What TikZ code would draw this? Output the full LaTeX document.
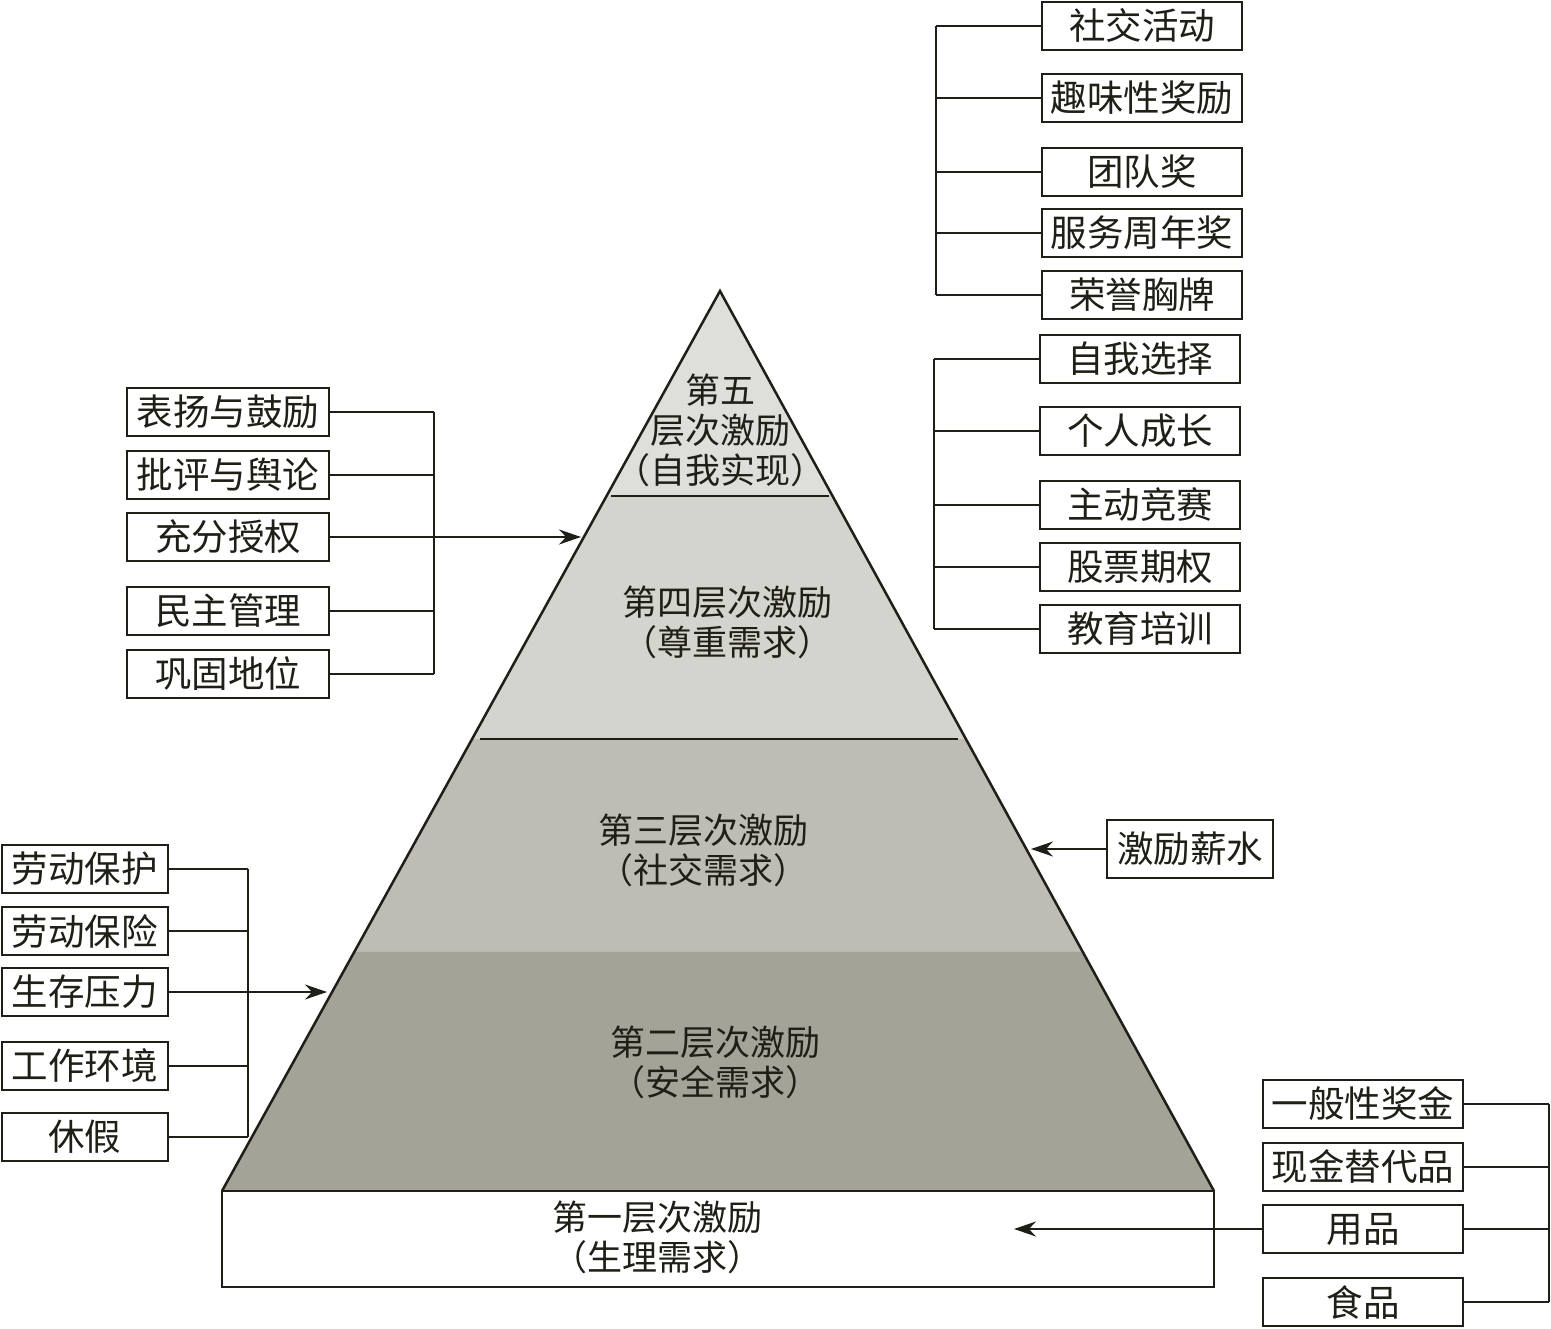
\documentclass[tikz,border=0pt]{standalone}
\usepackage{fontspec}
\newfontfamily\cjk{Noto Sans CJK SC}
\usetikzlibrary{calc,arrows.meta}
\definecolor{ink}{HTML}{1F1F17}
\definecolor{lvA}{HTML}{DEDEDA}
\definecolor{lvB}{HTML}{D4D4CE}
\definecolor{lvC}{HTML}{BDBDB5}
\definecolor{lvD}{HTML}{A3A398}
\tikzset{
  box/.style={draw=ink, line width=2.4pt, fill=white, minimum height=48pt, inner sep=0pt,
    font=\cjk\fontsize{36.5}{40}\selectfont, text=ink},
  wbox/.style={box, minimum width=#1},
  conn/.style={draw=ink, line width=2.2pt},
  arr/.style={conn, -{Stealth[length=22pt,width=15pt]}},
  lvtext/.style={font=\cjk\fontsize{35}{40}\selectfont, text=ink, align=center, inner sep=0pt}
}
\begin{document}
\begin{tikzpicture}[x=1pt,y=-1pt]
\useasboundingbox (0,0) rectangle (1551,1329);
% pyramid
\coordinate (A) at (720,291);
\coordinate (BL) at (222,1191);
\coordinate (BR) at (1214,1191);
\coordinate (L1) at ($(A)!0.2278!(BL)$);
\coordinate (R1) at ($(A)!0.2278!(BR)$);
\coordinate (L2) at ($(A)!0.4978!(BL)$);
\coordinate (R2) at ($(A)!0.4978!(BR)$);
\coordinate (L3) at ($(A)!0.7344!(BL)$);
\coordinate (R3) at ($(A)!0.7344!(BR)$);
\fill[lvA] (A) -- (L1) -- (R1) -- cycle;
\fill[lvB] (L1) -- (L2) -- (R2) -- (R1) -- cycle;
\fill[lvC] (L2) -- (L3) -- (R3) -- (R2) -- cycle;
\fill[lvD] (L3) -- (BL) -- (BR) -- (R3) -- cycle;
\draw[ink, line width=2.5pt] (BL) -- (A) -- (BR);
\draw[ink, line width=2.4pt] ($(L1)+(4,0)$) -- ($(R1)+(-4,0)$);
\draw[ink, line width=2.4pt] ($(L2)+(8,0)$) -- ($(R2)+(-8,0)$);
\draw[ink, line width=2.5pt, fill=white] (BL) rectangle (1214,1287);
% level texts
\node[lvtext] (lv5) at (720,430) {第五\\层次激励\\（自我实现）};
\node[lvtext] (lv4) at (727,622) {第四层次激励\\（尊重需求）};
\node[lvtext] (lv3) at (703,850) {第三层次激励\\（社交需求）};
\node[lvtext] (lv2) at (715,1062) {第二层次激励\\（安全需求）};
\node[lvtext] (lv1) at (657,1237) {第一层次激励\\（生理需求）};
% right top group
\node[wbox=200pt] (a1) at (1142,26) {社交活动};
\node[wbox=200pt] (a2) at (1142,98) {趣味性奖励};
\node[wbox=200pt] (a3) at (1142,172) {团队奖};
\node[wbox=200pt] (a4) at (1142,233) {服务周年奖};
\node[wbox=200pt] (a5) at (1142,295) {荣誉胸牌};
\coordinate (ax) at (936,0);
\foreach \n in {a1,a2,a3,a4,a5}{\draw[conn] (\n.west) -- (\n.west -| ax);}
\draw[conn] (a1.west -| ax) -- (a5.west -| ax);
% right second group
\node[wbox=200pt] (b1) at (1140,359) {自我选择};
\node[wbox=200pt] (b2) at (1140,431) {个人成长};
\node[wbox=200pt] (b3) at (1140,505) {主动竞赛};
\node[wbox=200pt] (b4) at (1140,567) {股票期权};
\node[wbox=200pt] (b5) at (1140,629) {教育培训};
\coordinate (bx) at (934,0);
\foreach \n in {b1,b2,b3,b4,b5}{\draw[conn] (\n.west) -- (\n.west -| bx);}
\draw[conn] (b1.west -| bx) -- (b5.west -| bx);
% left upper group
\node[wbox=202pt] (c1) at (228,412) {表扬与鼓励};
\node[wbox=202pt] (c2) at (228,475) {批评与舆论};
\node[wbox=202pt] (c3) at (228,537) {充分授权};
\node[wbox=202pt] (c4) at (228,611) {民主管理};
\node[wbox=202pt] (c5) at (228,674) {巩固地位};
\coordinate (cx) at (434,0);
\foreach \n in {c1,c2,c4,c5}{\draw[conn] (\n.east) -- (\n.east -| cx);}
\draw[conn] (c1.east -| cx) -- (c5.east -| cx);
\coordinate (ct) at (581,537);
\draw[arr] (c3.east) -- (ct);
% left lower group
\node[wbox=166pt] (d1) at (85,869) {劳动保护};
\node[wbox=166pt] (d2) at (85,931) {劳动保险};
\node[wbox=166pt] (d3) at (85,992) {生存压力};
\node[wbox=166pt] (d4) at (85,1066) {工作环境};
\node[wbox=166pt] (d5) at (85,1137) {休假};
\coordinate (dx) at (248,0);
\foreach \n in {d1,d2,d4,d5}{\draw[conn] (\n.east) -- (\n.east -| dx);}
\draw[conn] (d1.east -| dx) -- (d5.east -| dx);
\coordinate (dt) at (327,992);
\draw[arr] (d3.east) -- (dt);
% salary
\node[wbox=166pt, minimum height=58pt] (s) at (1190,849) {激励薪水};
\coordinate (st) at (1031,849);
\draw[arr] (s.west) -- (st);
% right lower group
\node[wbox=200pt] (e1) at (1363,1104) {一般性奖金};
\node[wbox=200pt] (e2) at (1363,1167) {现金替代品};
\node[wbox=200pt] (e3) at (1363,1229) {用品};
\node[wbox=200pt] (e4) at (1363,1302) {食品};
\coordinate (ex) at (1549,0);
\foreach \n in {e1,e2,e3,e4}{\draw[conn] (\n.east) -- (\n.east -| ex);}
\draw[conn] (e1.east -| ex) -- (e4.east -| ex);
\coordinate (et) at (1014,1229);
\draw[arr] (e3.west) -- (et);
\end{tikzpicture}
\end{document}
